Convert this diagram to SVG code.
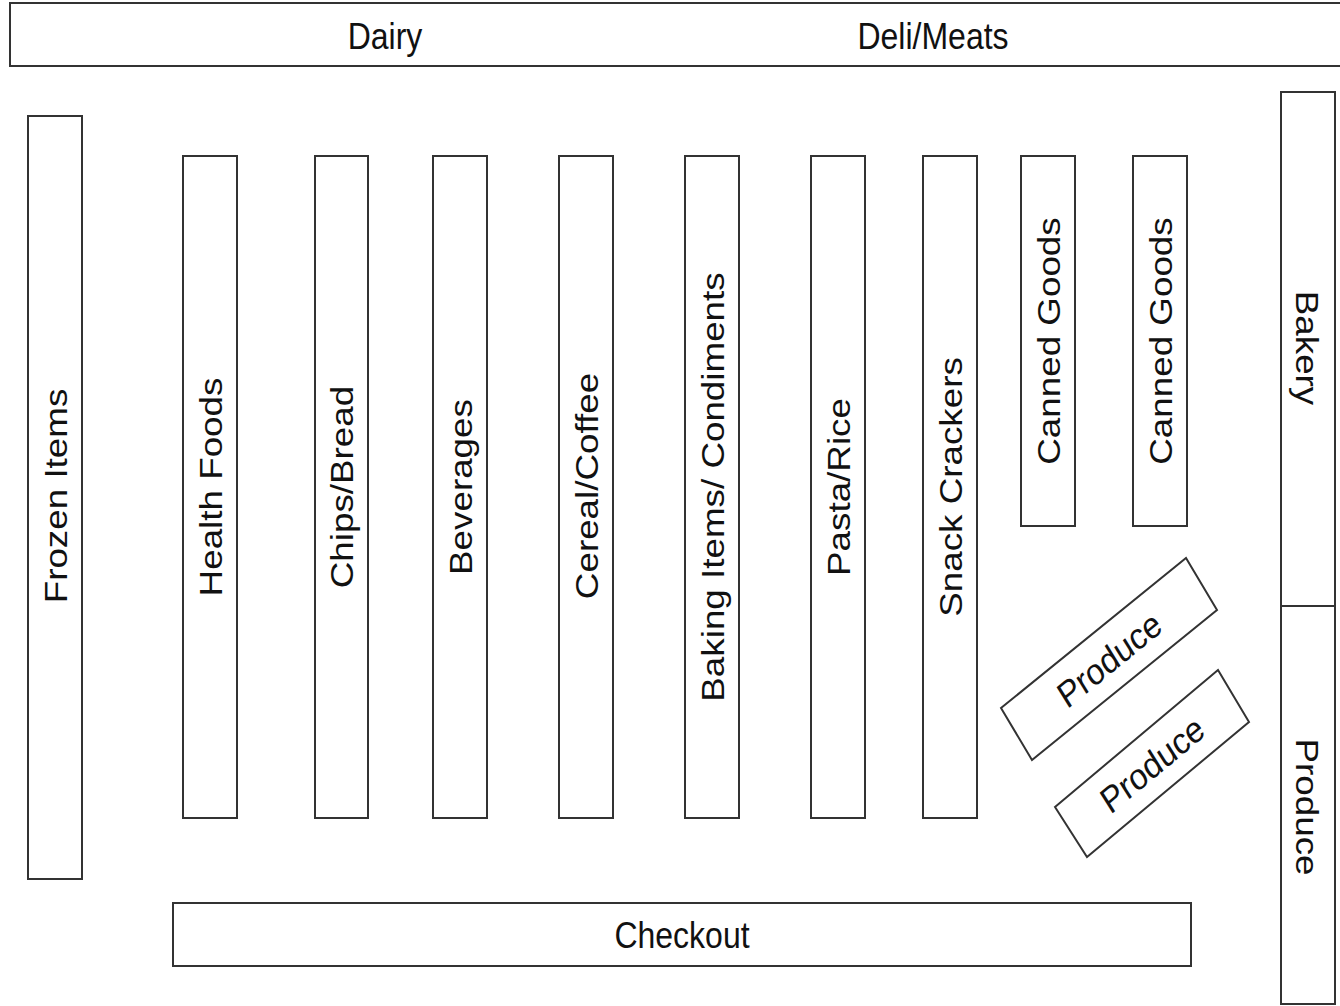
<svg xmlns="http://www.w3.org/2000/svg" width="1340" height="1006" viewBox="0 0 1340 1006">
<style>
.b{fill:#fff;stroke:#333;stroke-width:2}
.t{font-family:"Liberation Sans",Arial,sans-serif;font-size:32px;fill:#111;text-anchor:middle}
</style>
<rect width="1340" height="1006" fill="#fff"/>
<g id="dairy-deli">
<rect class="b" x="10" y="3" width="1340" height="63"/>
<text class="t" transform="translate(385,36) scale(1,1.15)" y="11.5">Dairy</text>
<text class="t" transform="translate(933,36) scale(1,1.15)" y="11.5">Deli/Meats</text>
</g>
<g id="frozen">
<rect class="b" x="28" y="116" width="54" height="763"/>
<text class="t" transform="translate(55,496) scale(1,1.15) rotate(-90)" y="11.5">Frozen Items</text>
</g>
<g id="health">
<rect class="b" x="183" y="156" width="54" height="662"/>
<text class="t" transform="translate(210,487) scale(1,1.15) rotate(-90)" y="11.5">Health Foods</text>
</g>
<g id="chips">
<rect class="b" x="315" y="156" width="53" height="662"/>
<text class="t" transform="translate(341.5,487) scale(1,1.15) rotate(-90)" y="11.5">Chips/Bread</text>
</g>
<g id="beverages">
<rect class="b" x="433" y="156" width="54" height="662"/>
<text class="t" transform="translate(460,487) scale(1,1.15) rotate(-90)" y="11.5">Beverages</text>
</g>
<g id="cereal">
<rect class="b" x="559" y="156" width="54" height="662"/>
<text class="t" transform="translate(586,486) scale(1,1.15) rotate(-90)" y="11.5">Cereal/Coffee</text>
</g>
<g id="baking">
<rect class="b" x="685" y="156" width="54" height="662"/>
<text class="t" transform="translate(712,487) scale(1,1.15) rotate(-90)" y="11.5">Baking Items/ Condiments</text>
</g>
<g id="pasta">
<rect class="b" x="811" y="156" width="54" height="662"/>
<text class="t" transform="translate(838,487) scale(1,1.15) rotate(-90)" y="11.5">Pasta/Rice</text>
</g>
<g id="snack">
<rect class="b" x="923" y="156" width="54" height="662"/>
<text class="t" transform="translate(950,487) scale(1,1.15) rotate(-90)" y="11.5">Snack Crackers</text>
</g>
<g id="canned1">
<rect class="b" x="1021" y="156" width="54" height="370"/>
<text class="t" transform="translate(1048,341) scale(1,1.15) rotate(-90)" y="11.5">Canned Goods</text>
</g>
<g id="canned2">
<rect class="b" x="1133" y="156" width="54" height="370"/>
<text class="t" transform="translate(1160,341) scale(1,1.15) rotate(-90)" y="11.5">Canned Goods</text>
</g>
<g id="produce-diag1">
<polygon class="b" points="1001,708 1186,558 1217,610 1032,760"/>
<text class="t" transform="translate(1109,659) scale(1,1.15) rotate(-35.5)" y="11.5">Produce</text>
</g>
<g id="produce-diag2">
<polygon class="b" points="1055,807 1218,670 1249,722 1087,857"/>
<text class="t" transform="translate(1152,764) scale(1,1.15) rotate(-36)" y="11.5">Produce</text>
</g>
<g id="bakery">
<rect class="b" x="1281" y="92" width="54" height="514"/>
<text class="t" transform="translate(1308,348) scale(1,1.15) rotate(90)" y="11.5">Bakery</text>
</g>
<g id="produce-wall">
<rect class="b" x="1281" y="606" width="54" height="398"/>
<text class="t" transform="translate(1308,807) scale(1,1.15) rotate(90)" y="11.5">Produce</text>
</g>
<g id="checkout">
<rect class="b" x="173" y="903" width="1018" height="63"/>
<text class="t" transform="translate(682,935) scale(1,1.15)" y="11.5">Checkout</text>
</g>
<g id="connectors"></g>
</svg>
